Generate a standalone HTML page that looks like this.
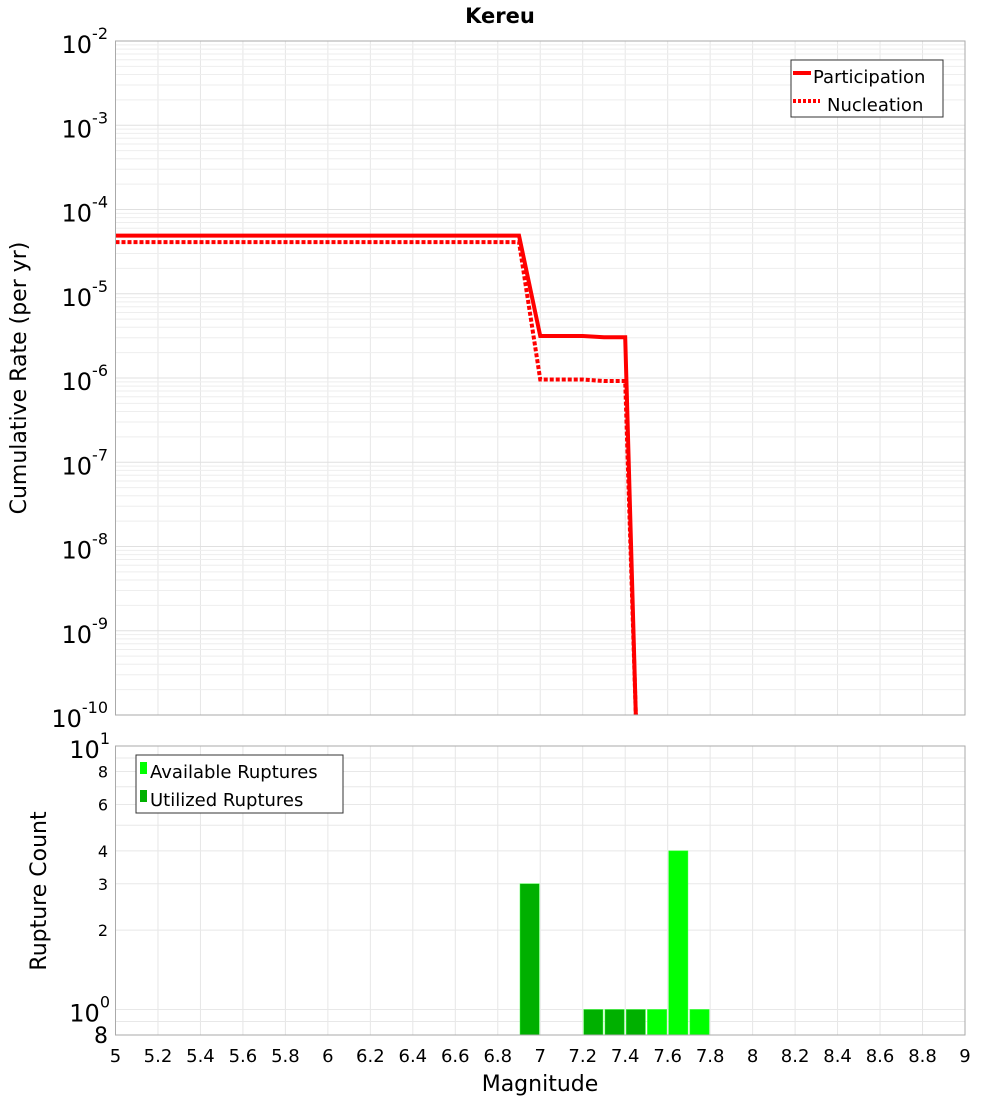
<!DOCTYPE html>
<html><head><meta charset="utf-8"><style>
body{margin:0;background:#fff;font-family:"Liberation Sans","DejaVu Sans",sans-serif}
svg text{font-family:"DejaVu Sans","Liberation Sans",sans-serif}
</style></head><body>
<svg id="c" width="1000" height="1100" xmlns="http://www.w3.org/2000/svg">
<text x="500" y="23" text-anchor="middle" font-size="21" font-weight="bold">Kereu</text>
<g id="topPlot"></g>
<g id="botPlot"></g>
<text transform="translate(26,378) rotate(-90)" text-anchor="middle" font-size="22">Cumulative Rate (per yr)</text>
<text transform="translate(46,891) rotate(-90)" text-anchor="middle" font-size="22">Rupture Count</text>
<text x="540" y="1091" text-anchor="middle" font-size="22">Magnitude</text>
</svg>
<script>
const partMag=[5,6.9,7.0,7.2,7.3,7.4,7.45];
const partRate=[4.9e-5,4.9e-5,3.15e-6,3.15e-6,3.05e-6,3.05e-6,1e-11];
const nucMag=[5,6.9,7.0,7.2,7.3,7.4,7.45];
const nucRate=[4.1e-5,4.1e-5,9.6e-7,9.6e-7,9.2e-7,9.2e-7,1e-11];
const availMag=[7.5,7.6,7.7];
const availCount=[1,4,1];
const usedMag=[6.9,7.2,7.3,7.4];
const usedCount=[3,1,1,1];
const xTicks=[5,5.2,5.4,5.6,5.8,6,6.2,6.4,6.6,6.8,7,7.2,7.4,7.6,7.8,8,8.2,8.4,8.6,8.8,9];
const yExp=[-2,-3,-4,-5,-6,-7,-8,-9,-10];
const NS='http://www.w3.org/2000/svg';
const L=115.5,R=965,T1=41,B1=715,T2=746,B2=1035;
const X=m=>L+(m-5)/4*(R-L);
const Y1=v=>T1+(-2-Math.log10(v))/8*(B1-T1);
const Y2=v=>T2+(1-Math.log10(v))/(1-Math.log10(0.8))*(B2-T2);
function el(p,t,a){const e=document.createElementNS(NS,t);for(const k in a)e.setAttribute(k,a[k]);p.appendChild(e);return e;}
const topG=document.getElementById('topPlot'),botG=document.getElementById('botPlot');
for(const g of [topG,botG]){
  const a=g===topG?T1:T2,b=g===topG?B1:B2;
  for(const t of xTicks){const l=el(g,'line',{x1:X(t),x2:X(t),y1:a,y2:b,stroke:'#e6e6e6'});
  
  }
}
for(let e=-10;e<-2;e++)for(let k=1;k<10;k++){const v=k*Math.pow(10,e);const y=Y1(v);
  const l=el(topG,'line',{x1:L,x2:R,y1:y,y2:y,stroke:k==1?'#e0e0e0':'#eeeeee'});
  
  }
for(const v of [0.9,1,2,3,4,5,6,7,8,9]){const y=Y2(v);
  const l=el(botG,'line',{x1:L,x2:R,y1:y,y2:y,stroke:'#e8e8e8'});
  
  }
const pts=(ms,vs)=>ms.map((m,i)=>X(m)+','+Math.min(B1,Y1(vs[i]))).join(' ');
const cp=el(topG,'clipPath',{id:'cl'});el(cp,'rect',{x:L,y:T1,width:R-L,height:B1-T1});
const pl=el(topG,'polyline',{points:pts(nucMag,nucRate),fill:'none',stroke:'#ff0000','stroke-width':4,'stroke-dasharray':'4,2','clip-path':'url(#cl)'});


const pp=el(topG,'polyline',{points:pts(partMag,partRate),fill:'none',stroke:'#ff0000','stroke-width':4,'clip-path':'url(#cl)'});


function bars(ms,cs,col,name){ms.forEach((m,i)=>{const x0=X(m)+1,x1=X(m+0.1)-1,y=Y2(cs[i]);
  const r=el(botG,'rect',{x:x0,y:y,width:x1-x0,height:B2-y,fill:col,stroke:'#33ff33','stroke-width':0.5});
  
  });}
bars(usedMag,usedCount,'#00b000','utilized-bar');
bars(availMag,availCount,'#00ff00','available-bar');
for(const [a,b] of [[T1,B1],[T2,B2]]){const f=el(document.getElementById('c'),'rect',{x:L,y:a,width:R-L,height:b-a,fill:'none',stroke:'#aaaaaa'});
  
  }
yExp.forEach(e=>{const y=Y1(Math.pow(10,e));
  const t=el(topG,'text',{x:108,y:y+12,'text-anchor':'end','font-size':24});
  
  
  t.textContent='10';
  const s=el(t,'tspan',{dy:-14,'font-size':16});s.textContent=String(e);});
const bl=[[10,'10','1',24],[8,'8','',16],[6,'6','',16],[4,'4','',16],[3,'3','',16],[2,'2','',16],[1,'10','0',24],[0.8,'8','',22]];
bl.forEach(([v,m,sup,fs])=>{const y=Y2(v);
  const t=el(botG,'text',{x:sup?110:108,y:y+(v==0.8?8:(sup?12:6)),'text-anchor':'end','font-size':fs});
  
  
  t.textContent=m;
  if(sup){const s=el(t,'tspan',{dy:-14,'font-size':16});s.textContent=sup;}});
xTicks.forEach(v=>{const t=el(botG,'text',{x:X(v),y:1062,'text-anchor':'middle','font-size':18});
  
  
  t.textContent=String(v);});
function legend(g,x,y,w,h,items,name){const lg=el(g,'g',{});
  
  
  el(lg,'rect',{x:x,y:y,width:w,height:h,fill:'#fff',stroke:'#333'});
  items.forEach((it,i)=>{const yy=y+17+i*28;it.draw(lg,yy);const t=el(lg,'text',{x:x+it.tx,y:yy+6,'font-size':18});t.textContent=it.label;});}
legend(topG,791,60,152,57,[
 {label:'Participation',tx:22,draw:(g,y)=>el(g,'line',{x1:793,x2:811,y1:y-4,y2:y-4,stroke:'#f00','stroke-width':4})},
 {label:'Nucleation',tx:36,draw:(g,y)=>el(g,'line',{x1:793,x2:820,y1:y-4,y2:y-4,stroke:'#f00','stroke-width':4,'stroke-dasharray':'3,2'})}],'rate-legend');
legend(botG,136,755,207,58,[
 {label:'Available Ruptures',tx:14,draw:(g,y)=>el(g,'rect',{x:140,y:y-10,width:7,height:12,fill:'#00ff00'})},
 {label:'Utilized Ruptures',tx:14,draw:(g,y)=>el(g,'rect',{x:140,y:y-10,width:7,height:12,fill:'#00b000'})}],'count-legend');
</script>
</body></html>
